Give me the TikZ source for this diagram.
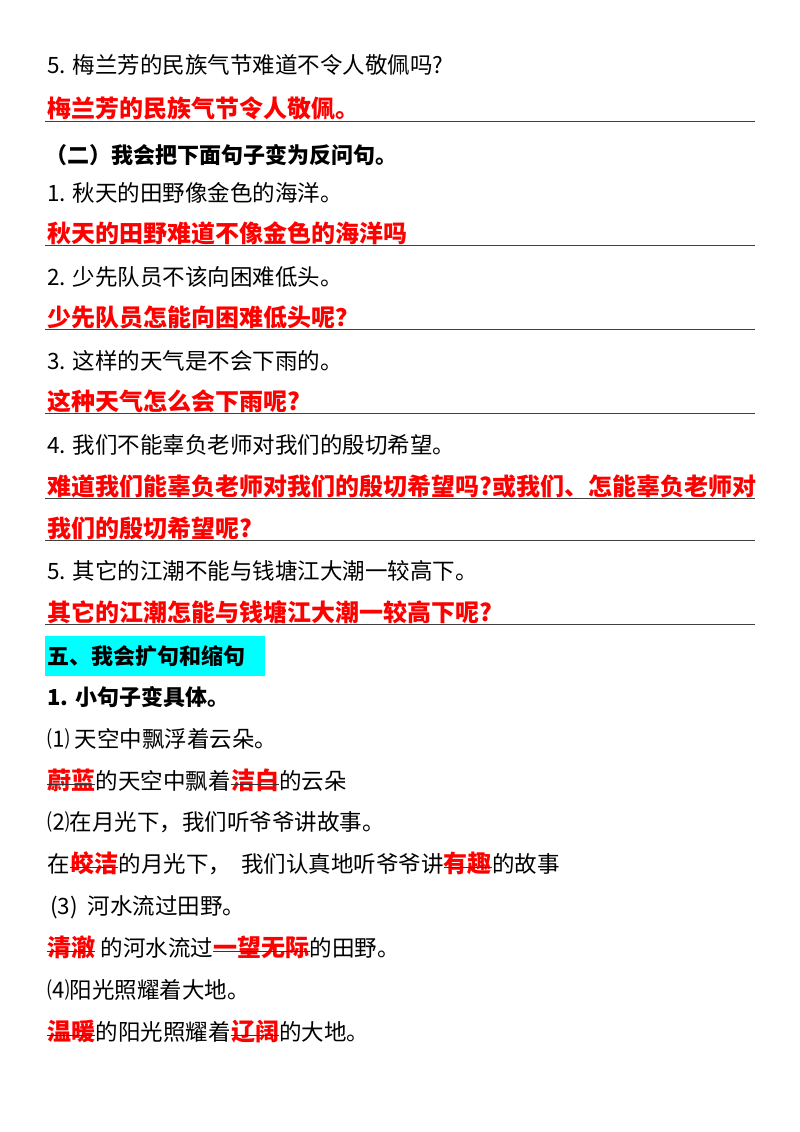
\documentclass[tikz,border=0pt]{standalone}
\usepackage{fontspec}
\setmainfont{Noto Sans CJK SC}
\definecolor{ansred}{RGB}{255,0,0}
\definecolor{hlcyan}{RGB}{0,255,255}
\begin{document}
\begin{tikzpicture}[x=1pt,y=-1pt,
  q/.style={anchor=base west,inner sep=0pt,font=\fontsize{22.5}{26}\selectfont},
  qb/.style={q,font=\fontsize{22}{26}\selectfont\bfseries},
  ans/.style={anchor=base west,inner sep=0pt,text=ansred,font=\fontsize{24}{28}\selectfont\bfseries},
  rule/.style={draw=black!75,line width=1pt},
  ul/.style={draw=black!80,line width=1pt}]
\useasboundingbox (0,0) rectangle (800,1132);
\fill[white] (0,0) rectangle (800,1132);
\node[q] (l1) at (47,74) {5. 梅兰芳的民族气节难道不令人敬佩吗?};
\node[ans] (a1) at (47,117) {梅兰芳的民族气节令人敬佩。};
\coordinate (r1a) at (45,121); \coordinate (r1b) at (755,121); \draw[rule] (r1a) -- (r1b);
\node[qb] (h2) at (45,163) {（二）我会把下面句子变为反问句。};
\node[q] (l2) at (47,201) {1. 秋天的田野像金色的海洋。};
\node[ans] (a2) at (47,242) {秋天的田野难道不像金色的海洋吗};
\coordinate (r2a) at (45,245); \coordinate (r2b) at (755,245); \draw[rule] (r2a) -- (r2b);
\node[q] (l3) at (47,285) {2. 少先队员不该向困难低头。};
\node[ans] (a3) at (47,326) {少先队员怎能向困难低头呢？};
\coordinate (r3a) at (45,329); \coordinate (r3b) at (755,329); \draw[rule] (r3a) -- (r3b);
\node[q] (l4) at (47,369) {3. 这样的天气是不会下雨的。};
\node[ans] (a4) at (47,410) {这种天气怎么会下雨呢?};
\coordinate (r4a) at (45,413); \coordinate (r4b) at (755,413); \draw[rule] (r4a) -- (r4b);
\node[q] (l5) at (47,453) {4. 我们不能辜负老师对我们的殷切希望。};
\node[ans] (a5) at (47,495) {难道我们能辜负老师对我们的殷切希望吗?或我们、怎能辜负老师对};
\coordinate (r5a) at (45,498); \coordinate (r5b) at (755,498); \draw[rule] (r5a) -- (r5b);
\node[ans] (a5b) at (47,537) {我们的殷切希望呢?};
\coordinate (r6a) at (45,540); \coordinate (r6b) at (755,540); \draw[rule] (r6a) -- (r6b);
\node[q] (l6) at (47,579) {5. 其它的江潮不能与钱塘江大潮一较高下。};
\node[ans] (a6) at (47,621) {其它的江潮怎能与钱塘江大潮一较高下呢?};
\coordinate (r7a) at (45,624); \coordinate (r7b) at (755,624); \draw[rule] (r7a) -- (r7b);
\fill[hlcyan] (45,636) rectangle (265,676);
\node[qb] (h5) at (47,664) {五、我会扩句和缩句};
\node[qb] (h51) at (47,705) {1. 小句子变具体。};
\node[q] (s1) at (47,747) {⑴ 天空中飘浮着云朵。};
\node[ans] (e1a) at (47,789) {蔚蓝};
\node[q] (e1b) at (e1a.base east) {的天空中飘着};
\node[ans] (e1c) at (e1b.base east) {洁白};
\node[q] (e1d) at (e1c.base east) {的云朵};
\draw[ul] ([yshift=5]e1a.base west) -- ([yshift=5]e1a.base east);
\draw[ul] ([yshift=5]e1c.base west) -- ([yshift=5]e1c.base east);
\node[q] (s2) at (47,830) {⑵在月光下，我们听爷爷讲故事。};
\node[q] (e2a) at (47,872) {在};
\node[ans] (e2b) at (e2a.base east) {皎洁};
\node[q] (e2c) at (e2b.base east) {的月光下， \ 我们认真地听爷爷讲};
\node[ans] (e2d) at (e2c.base east) {有趣};
\node[q] (e2e) at (e2d.base east) {的故事};
\draw[ul] ([yshift=5]e2b.base west) -- ([yshift=5]e2b.base east);
\draw[ul] ([yshift=5]e2d.base west) -- ([yshift=5]e2d.base east);
\node[q] (s3) at (50,914) {(3) \ 河水流过田野。};
\node[ans] (e3a) at (47,956) {清澈};
\node[q] (e3b) at (e3a.base east) {\ 的河水流过};
\node[ans] (e3c) at (e3b.base east) {一望无际};
\node[q] (e3d) at (e3c.base east) {的田野。};
\draw[ul] ([yshift=5]e3a.base west) -- ([yshift=5]e3a.base east);
\draw[ul] ([yshift=5]e3c.base west) -- ([yshift=5]e3c.base east);
\node[q] (s4) at (47,998) {⑷阳光照耀着大地。};
\node[ans] (e4a) at (47,1040) {温暖};
\node[q] (e4b) at (e4a.base east) {的阳光照耀着};
\node[ans] (e4c) at (e4b.base east) {辽阔};
\node[q] (e4d) at (e4c.base east) {的大地。};
\draw[ul] ([yshift=5]e4a.base west) -- ([yshift=5]e4a.base east);
\draw[ul] ([yshift=5]e4c.base west) -- ([yshift=5]e4c.base east);
\end{tikzpicture}
\end{document}
